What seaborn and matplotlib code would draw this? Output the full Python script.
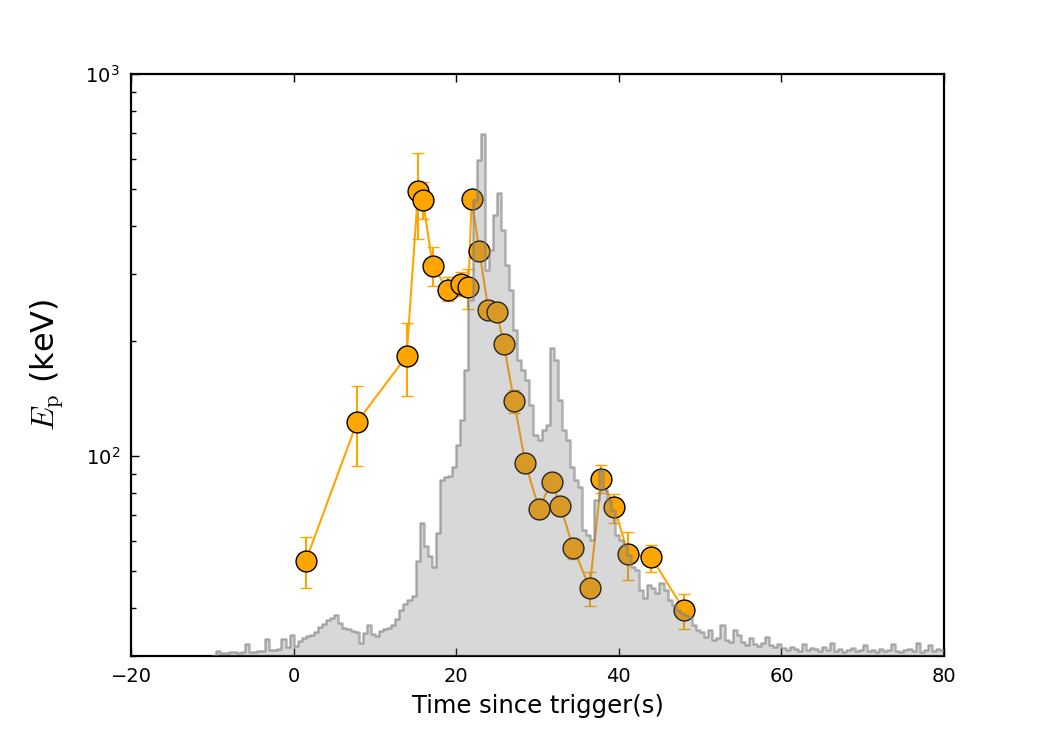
import numpy as np
import pandas as pd
import matplotlib
matplotlib.use('Agg')
import matplotlib.pyplot as plt
import matplotlib.ticker as ticker
import seaborn as sns

# spectral fits: time, peak energy and asymmetric errors
time_s = [1.5, 7.8, 13.9, 15.3, 15.9, 17.1, 18.95, 20.6, 21.5, 21.9, 22.85, 23.95, 24.98,
          25.84, 27.1, 28.5, 30.18, 31.74, 32.8, 34.4, 36.41, 37.85, 39.44, 41.13, 43.96, 48.06]
ep_kev = [53.3, 122.8, 182.9, 493, 469, 315, 273, 282, 276.5, 471, 344, 241, 238,
          197, 139.5, 95.8, 72.8, 85.8, 74.2, 57.4, 45.3, 87.4, 73.8, 55.4, 54.5, 39.5]
ep_err_lo = [8.2, 28.7, 39.3, 124, 51, 37, 19, 20, 33.5, 15, 12, 9, 9,
             8, 9.5, 5, 3.9, 4.5, 4, 3.5, 4.8, 7.4, 6.8, 8.1, 4.8, 4.3]
ep_err_hi = [8.0, 29.9, 40.1, 128, 53, 37, 22, 22, 32.5, 15, 12, 9, 9,
             8, 9.5, 5, 4, 4.5, 4, 3.5, 4.4, 7.3, 5.8, 7.8, 4.1, 4.1]

# light curve (counts per 0.5 s bin, starting at -10 s)
lc_start = -10.0
lc_width = 0.5
lc_counts = [
    0, 5, 3, 3, 4, 4, 3, 4, 12, 4,
    4, 5, 5, 17, 6, 6, 7, 17, 9, 21,
    10, 15, 18, 20, 21, 24, 29, 32, 36, 38,
    41, 33, 28, 27, 25, 24, 13, 23, 31, 22,
    20, 25, 27, 28, 31, 37, 46, 52, 56, 60,
    95, 133, 110, 100, 89, 123, 176, 179, 180, 189,
    211, 236, 286, 356, 456, 496, 522, 386, 406, 441,
    463, 426, 391, 366, 326, 296, 286, 276, 251, 221,
    216, 226, 231, 308, 296, 256, 226, 216, 189, 176,
    169, 126, 121, 116, 156, 186, 166, 156, 146, 121,
    116, 111, 101, 89, 86, 66, 58, 71, 68, 63,
    73, 66, 56, 51, 46, 43, 41, 39, 31, 26,
    24, 19, 26, 16, 18, 31, 16, 14, 26, 21,
    14, 11, 18, 12, 10, 13, 19, 11, 9, 12,
    8, 6, 9, 7, 5, 12, 6, 8, 7, 5,
    9, 6, 13, 5, 7, 4, 6, 8, 5, 6,
    11, 5, 6, 4, 7, 5, 6, 12, 5, 4,
    6, 7, 5, 13, 4, 6, 11, 5, 7, 6,
]

sns.set_style('ticks', {'xtick.direction': 'in', 'ytick.direction': 'in',
                        'axes.edgecolor': 'black', 'text.color': 'black',
                        'axes.labelcolor': 'black', 'xtick.color': 'black',
                        'ytick.color': 'black'})
plt.rcParams['font.family'] = ['DejaVu Sans']
plt.rcParams['mathtext.fontset'] = 'cm'

fig = plt.figure(figsize=(10.5, 7.5), dpi=100)
ax = fig.add_axes([0.1248, 0.1253, 0.7743, 0.776])

ax.errorbar(time_s, ep_kev, yerr=[ep_err_lo, ep_err_hi], fmt='o-', color='orange',
            ecolor='orange', lw=1.5, ms=15, mfc='orange', mec='k', mew=1.0,
            capsize=4.5, capthick=1.2, elinewidth=1.5)
ax.set_yscale('log')
ax.set_xlim(-20, 80)
ax.set_ylim(30, 1000)
ax.yaxis.set_minor_formatter(ticker.NullFormatter())
ax.set_xlabel('Time since trigger(s)', fontsize=17.5, labelpad=6)
ax.set_ylabel(r'$E_{\rm p}$ (keV)', fontsize=23, labelpad=14)
ax.tick_params(axis='x', which='both', top=True, bottom=True, labelsize=14,
               length=6, width=1, pad=8)
ax.tick_params(axis='y', which='major', left=True, right=False, labelsize=14,
               length=6, width=1, pad=8)
ax.tick_params(axis='y', which='minor', left=True, right=False, length=3.5, width=1)
for sp in ax.spines.values():
    sp.set_linewidth(1.6)

# light curve on a twin axis, drawn over the points
ax2 = ax.twinx()
nbin = len(lc_counts)
lc = pd.DataFrame({
    't': lc_start + lc_width * (np.arange(nbin) + 0.5),
    'counts': lc_counts,
})
binrange = (lc_start, lc_start + lc_width * nbin)
sns.histplot(data=lc, x='t', weights='counts', binwidth=lc_width, binrange=binrange,
             element='step', fill=True, color='grey', alpha=0.3, linewidth=0, ax=ax2)
sns.histplot(data=lc, x='t', weights='counts', binwidth=lc_width, binrange=binrange,
             element='step', fill=False, color='grey', alpha=0.6, linewidth=1.8, ax=ax2)
ax2.set_xlim(-20, 80)
ax2.set_ylim(0, 582)
ax2.set_ylabel('')
ax2.set_xlabel('')
ax2.set_yticks([])
ax2.tick_params(axis='x', which='both', top=False, bottom=False)
for sp in ax2.spines.values():
    sp.set_visible(False)

fig.savefig('out.png', dpi=100)
